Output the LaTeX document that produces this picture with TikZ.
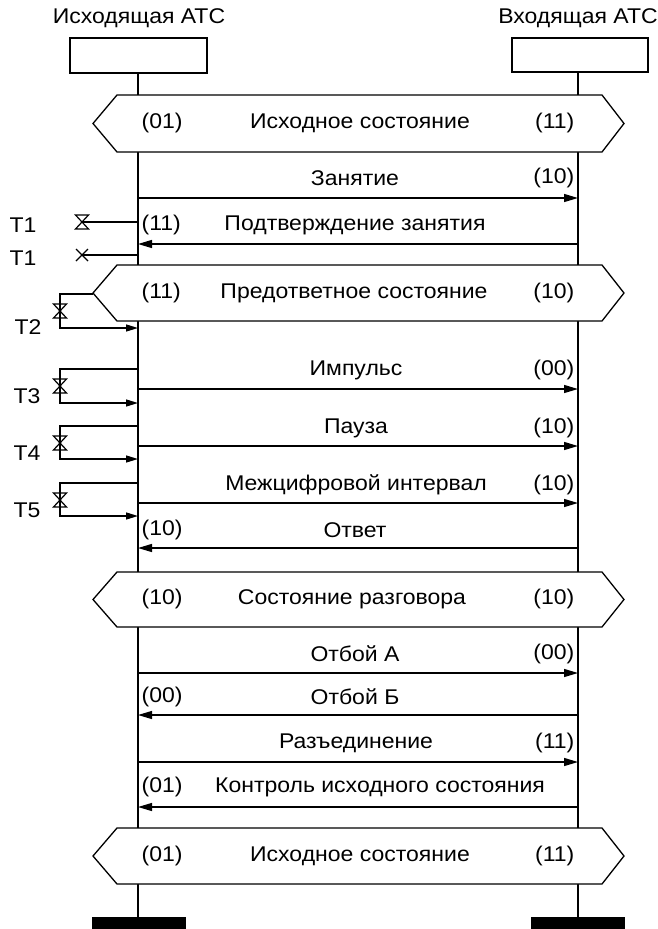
\documentclass[tikz,border=0pt]{standalone}
\usepackage{fontspec}
\setmainfont[FakeStretch=1.08]{Liberation Sans}
\usetikzlibrary{arrows.meta}
\newcommand\hexpath[2]{%
  \draw[fill=white] (93,{(#1+#2)/2}) -- (117,#1) -- (602,#1) -- (624,{(#1+#2)/2}) -- (602,#2) -- (117,#2) -- cycle;}
\newcommand\hglass[2]{%
  \draw[line width=1.2pt] ({#1-6.5},{#2-7}) -- ({#1+6.5},{#2-7}) -- ({#1-6.5},{#2+7}) -- ({#1+6.5},{#2+7}) -- cycle;}
\begin{document}
\begin{tikzpicture}[x=1pt,y=-1pt,line width=1.3pt,
  lbl/.style={font=\fontsize{21.3}{25}\selectfont,inner sep=0pt},
  msg/.style={-{Triangle[length=14pt,width=8pt]}},
  tmr/.style={-{Triangle[length=12pt,width=7pt]}}]
\useasboundingbox (0,0) rectangle (658,929);

% headers
\node[lbl] (hA) at (139,18) {Исходящая АТС};
\node[lbl] (hB) at (578,18) {Входящая АТС};
\node[draw,minimum width=137pt,minimum height=35pt,inner sep=0pt] (boxA) at (138.5,55.5) {};
\node[draw,minimum width=136pt,minimum height=34pt,inner sep=0pt] (boxB) at (580,55) {};

% lifelines
\coordinate (endA) at (138,917);
\coordinate (endB) at (578,917);
\draw (boxA.south -| endA) -- (endA);
\draw (boxB.south -| endB) -- (endB);

% bars
\fill (92,917) rectangle (186,929);
\fill (531,917) rectangle (625,929);

% hexagons
\hexpath{95}{152}
\node[lbl,anchor=west] (s1a) at (141,123) {(01)};
\node[lbl] (s1t) at (360,123) {Исходное состояние};
\node[lbl,anchor=east] (s1b) at (575,123) {(11)};

\hexpath{265}{321}
\node[lbl,anchor=west] (s2a) at (141,293) {(11)};
\node[lbl] (s2t) at (354,293) {Предответное состояние};
\node[lbl,anchor=east] (s2b) at (575,293) {(10)};

\hexpath{572}{627}
\node[lbl,anchor=west] (s3a) at (141,599) {(10)};
\node[lbl] (s3t) at (352,599) {Состояние разговора};
\node[lbl,anchor=east] (s3b) at (575,599) {(10)};

\hexpath{828}{884}
\node[lbl,anchor=west] (s4a) at (141,856) {(01)};
\node[lbl] (s4t) at (360,856) {Исходное состояние};
\node[lbl,anchor=east] (s4b) at (575,856) {(11)};

% messages
\coordinate (a1) at (138,198); \coordinate (b1) at (578,198);
\draw[msg] (a1) -- (b1);
\node[lbl] (m1) at (355,178) {Занятие};
\node[lbl,anchor=east] (m1s) at (575,178) {(10)};

\coordinate (a2) at (138,244); \coordinate (b2) at (578,244);
\draw[msg] (b2) -- (a2);
\node[lbl] (m2) at (355,225) {Подтверждение занятия};
\node[lbl,anchor=west] (m2s) at (141,225) {(11)};

\coordinate (a3) at (138,389); \coordinate (b3) at (578,389);
\draw[msg] (a3) -- (b3);
\node[lbl] (m3) at (356,370) {Импульс};
\node[lbl,anchor=east] (m3s) at (575,370) {(00)};

\coordinate (a4) at (138,446); \coordinate (b4) at (578,446);
\draw[msg] (a4) -- (b4);
\node[lbl] (m4) at (356,428) {Пауза};
\node[lbl,anchor=east] (m4s) at (575,428) {(10)};

\coordinate (a5) at (138,503); \coordinate (b5) at (578,503);
\draw[msg] (a5) -- (b5);
\node[lbl] (m5) at (356,485) {Межцифровой интервал};
\node[lbl,anchor=east] (m5s) at (575,485) {(10)};

\coordinate (a6) at (138,548); \coordinate (b6) at (578,548);
\draw[msg] (b6) -- (a6);
\node[lbl] (m6) at (355,530) {Ответ};
\node[lbl,anchor=west] (m6s) at (141,530) {(10)};

\coordinate (a7) at (138,673); \coordinate (b7) at (578,673);
\draw[msg] (a7) -- (b7);
\node[lbl] (m7) at (355,654) {Отбой А};
\node[lbl,anchor=east] (m7s) at (575,654) {(00)};

\coordinate (a8) at (138,715); \coordinate (b8) at (578,715);
\draw[msg] (b8) -- (a8);
\node[lbl] (m8) at (355,697) {Отбой Б};
\node[lbl,anchor=west] (m8s) at (141,697) {(00)};

\coordinate (a9) at (138,762); \coordinate (b9) at (578,762);
\draw[msg] (a9) -- (b9);
\node[lbl] (m9) at (356,743) {Разъединение};
\node[lbl,anchor=east] (m9s) at (575,743) {(11)};

\coordinate (a10) at (138,807); \coordinate (b10) at (578,807);
\draw[msg] (b10) -- (a10);
\node[lbl] (m10) at (380,787) {Контроль исходного состояния};
\node[lbl,anchor=west] (m10s) at (141,787) {(01)};

% timers T1
\coordinate (t1a) at (138,222);
\coordinate (t1x) at (82,222);
\draw (t1a) -- (t1x);
\hglass{82}{222}
\node[lbl] (T1a) at (23,225) {T1};

\coordinate (t1b) at (138,255);
\coordinate (t1y) at (82,255);
\draw (t1b) -- (t1y);
\draw[line width=1.2pt] (76,249) -- (88,261) (76,261) -- (88,249);
\node[lbl] (T1b) at (23,258) {T1};

% T2
\coordinate (t2a) at (93,294);
\coordinate (t2b) at (138,328);
\draw[tmr] (t2a) -- (60,294) |- (t2b);
\hglass{60}{311}
\node[lbl] (T2) at (28,327) {T2};

% T3
\coordinate (t3a) at (138,369);
\coordinate (t3b) at (138,403);
\draw[tmr] (t3a) -- (60,369) |- (t3b);
\hglass{60}{386}
\node[lbl] (T3) at (27,396) {T3};

% T4
\coordinate (t4a) at (138,426);
\coordinate (t4b) at (138,459);
\draw[tmr] (t4a) -- (60,426) |- (t4b);
\hglass{60}{443}
\node[lbl] (T4) at (27,453) {T4};

% T5
\coordinate (t5a) at (138,483);
\coordinate (t5b) at (138,516);
\draw[tmr] (t5a) -- (60,483) |- (t5b);
\hglass{60}{500}
\node[lbl] (T5) at (27,510) {T5};
\end{tikzpicture}
\end{document}
